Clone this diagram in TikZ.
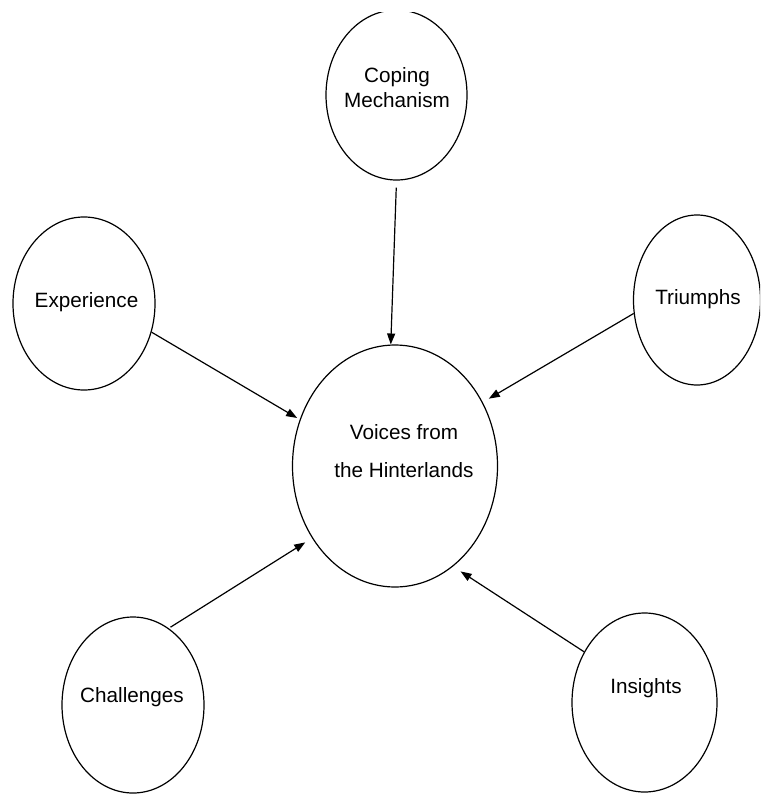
\documentclass[tikz,border=0pt]{standalone}
\usepackage{fontspec}
\setmainfont{Liberation Sans}
\usetikzlibrary{shapes.geometric, arrows.meta}

\begin{document}
\begin{tikzpicture}[x=1pt, y=-1pt,
    bubble/.style={ellipse, draw, line width=1.2pt, inner sep=0pt},
    theme/.style={font=\fontsize{20.7}{25}\selectfont, inner sep=0pt, align=center},
    link/.style={-{Triangle[length=11pt, width=8pt]}, line width=1.2pt}]
  % Frame
  \useasboundingbox (0,0) rectangle (760,794);
  \clip (0,13) rectangle (760,794);
  % Bubbles
  \node[bubble, minimum width=205pt, minimum height=242pt] (voices) at (395,466) {};
  \node[bubble, minimum width=141pt, minimum height=170pt] (coping) at (396.5,95) {};
  \node[bubble, minimum width=142pt, minimum height=173pt] (experience) at (84,303.5) {};
  \node[bubble, minimum width=127pt, minimum height=170pt] (triumphs) at (697,300) {};
  \node[bubble, minimum width=142pt, minimum height=176pt] (challenges) at (133,705) {};
  \node[bubble, minimum width=145pt, minimum height=179pt] (insights) at (644.5,702.5) {};
  % Texts
  \node[theme, font=\fontsize{20.7}{37.7}\selectfont] (voices-text) at (404,451.3) {Voices from\\the Hinterlands};
  \node[theme] (coping-text) at (397,88) {Coping\\Mechanism};
  \node[theme, anchor=base] (experience-text) at (86.5,307) {Experience};
  \node[theme, anchor=base] (triumphs-text) at (698,304) {Triumphs};
  \node[theme, anchor=base] (challenges-text) at (132,702) {Challenges};
  \node[theme, anchor=base] (insights-text) at (646,693) {Insights};
  % Links
  \draw[link, shorten <=7pt] (coping.270) -- (voices.92);
  \draw[link, shorten >=3pt] (experience.337) -- (voices.154);
  \draw[link, shorten >=7pt] (triumphs.192) -- (voices.36);
  \draw[link, shorten <=2pt, shorten >=8pt] (challenges.65) -- (voices.221);
  \draw[link, shorten >=9pt] (insights.140) -- (voices.300);
\end{tikzpicture}
\end{document}
